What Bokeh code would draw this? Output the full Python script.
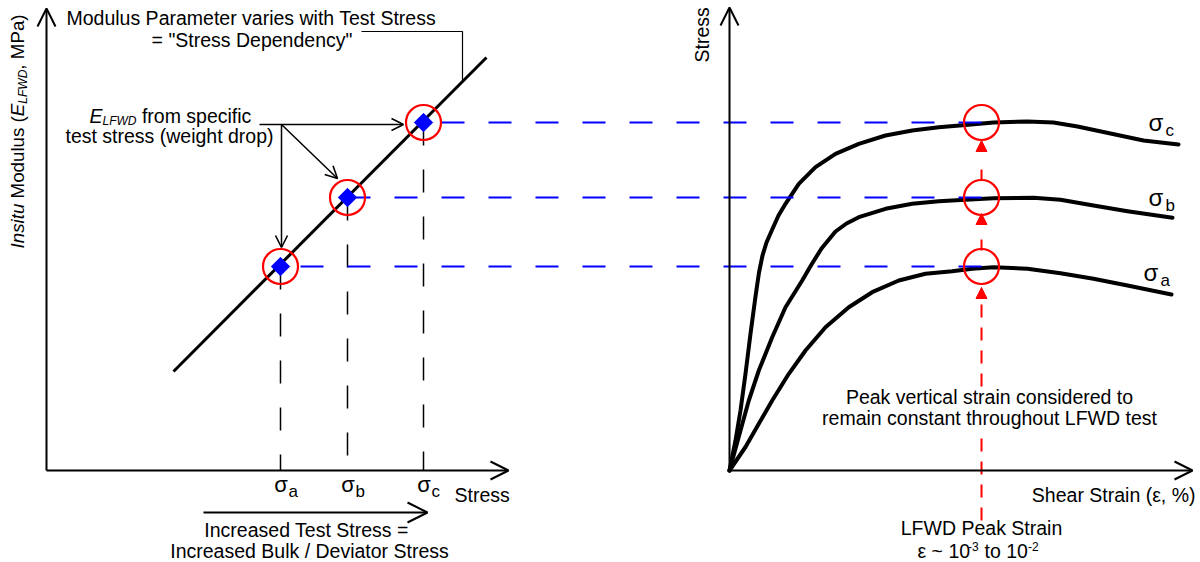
import math
from bokeh.plotting import figure
from bokeh.models import Range1d, Arrow, OpenHead, NormalHead
from bokeh.core.properties import value
from bokeh.embed import file_html
from bokeh.resources import INLINE

FONT = "Liberation Sans"
BLUE = "#0000FF"
RED = "#FF0000"

# ---------------- data (diagram units) ----------------
stress_labels = ["a", "b", "c"]
stress_x = [280, 347, 423]          # sigma_a, sigma_b, sigma_c on the stress axis
modulus_y = [266, 197, 122]         # E_LFWD obtained at each test stress
trend_x = [173, 486]                # modulus-vs-stress trend
trend_y = [371, 57]
peak_strain_x = 981                 # LFWD peak strain on the shear strain axis
right_label_x = [1143, 1148, 1148]
right_label_y = [282, 207, 132]

curve_a_x = [729, 745, 758.3, 771.7, 788.3, 805, 825, 848.3, 871.7, 898.3, 925, 951.7, 971.7, 993, 1027, 1060, 1093, 1127, 1171]
curve_a_y = [470, 446.5, 423.3, 400, 373.3, 350, 326.7, 306.7, 291.7, 280, 273.3, 270.7, 268.3, 266.7, 268.3, 272.7, 278.3, 285, 294]
curve_b_x = [729, 740, 748.3, 758.3, 771.7, 785, 801.7, 811, 821, 835, 846, 858.3, 885, 911.7, 938.3, 965, 993, 1033, 1060, 1093, 1127, 1172]
curve_b_y = [470, 430, 400, 370, 336.7, 306.7, 280, 264, 248, 231, 223, 216.7, 208.3, 203.3, 200.7, 199.3, 197.7, 197.3, 199.3, 205, 210.7, 217.3]
curve_c_x = [729, 735, 740, 745, 750, 755, 758.5, 762, 766, 771.7, 778, 785, 798.3, 815, 835, 858.3, 885, 911.7, 938.3, 965, 993, 1027, 1053, 1077, 1110, 1143, 1178]
curve_c_y = [470, 440, 410, 373.3, 333.3, 296, 272, 255, 242, 229, 215, 203.3, 183.3, 166.7, 153.3, 143.3, 135, 130, 126.7, 124.5, 122, 121, 122, 126, 133, 140, 144]

# ---------------- figure ----------------
W_PX, H_PX = 1200, 562
p = figure(width=W_PX, height=H_PX, x_range=Range1d(0, W_PX), y_range=Range1d(H_PX, 0),
           output_backend="svg", toolbar_location=None, min_border=0,
           x_axis_location=None, y_axis_location=None)
p.grid.visible = False
p.outline_line_color = None
p.background_fill_color = "white"
p.border_fill_color = "white"

AW = {' ': 278, '(': 333, ')': 333, ',': 278, '-': 333, '~': 584, '%': 889, '=': 584, '"': 355, '/': 278,
      'A': 667, 'B': 667, 'C': 722, 'D': 722, 'E': 667, 'F': 611, 'I': 278, 'L': 556, 'M': 833,
      'P': 667, 'S': 667, 'T': 611, 'W': 944,
      'a': 556, 'b': 556, 'c': 500, 'd': 556, 'e': 556, 'f': 278, 'g': 556, 'h': 556, 'i': 222,
      'k': 500, 'l': 222, 'm': 833, 'n': 556, 'o': 556, 'p': 556, 'r': 333, 's': 500, 't': 278,
      'u': 556, 'v': 500, 'w': 722, 'y': 500}
for d in "0123456789":
    AW[d] = 556


def tw(s, size):
    return sum(AW.get(ch, 556) for ch in s) * size / 1000.0


def txt(x, y, s, size=19.5, style="normal", align="left", angle=0.0, color="black"):
    """(x, y) is the baseline anchor as measured on the reference."""
    if angle == 0.0:
        y = y - 0.41 * size
    else:
        x = x - 0.53 * size
    p.text(x=[x], y=[y], text=[s], text_font=value(FONT), text_font_size=f"{size}px",
           text_font_style=style, text_align=align, text_baseline="alphabetic",
           angle=angle, text_color=color)


def chain(x, y, pieces, vertical=False):
    """pieces: (text, style, size, baseline shift px). Leading spaces become offsets."""
    cur = x if not vertical else y
    for s, st, sz, sh in pieces:
        body = s.lstrip(" ")
        cur += (-1 if vertical else 1) * tw(s[:len(s) - len(body)], sz)
        if vertical:
            txt(x + sh, cur, body, size=sz, style=st, angle=math.pi / 2)
        else:
            txt(cur, y + sh, body, size=sz, style=st)
        cur += (-1 if vertical else 1) * tw(body, sz)


def arrow(x0, y0, x1, y1, lw=2.0, size=18, hw=None, color="black"):
    p.add_layout(Arrow(end=OpenHead(size=size, line_width=hw or lw, line_color=color),
                       x_start=x0, y_start=y0, x_end=x1, y_end=y1,
                       line_width=lw, line_color=color))


# ---------------- left panel ----------------
arrow(46, 470, 46, 8, lw=2, size=18)
arrow(46, 470, 508, 470, lw=2, size=18)

p.line(trend_x, trend_y, line_width=3, line_color="black")

for sx, my in zip(stress_x, modulus_y):
    p.line([sx, sx], [my, 470], line_width=1.5, line_color="black", line_dash="23 24")

# ---------------- right panel ----------------
arrow(729, 470, 729, 7, lw=2, size=18)
arrow(729, 470, 1192, 470, lw=2, size=18)

for cx, cy in ((curve_a_x, curve_a_y), (curve_b_x, curve_b_y), (curve_c_x, curve_c_y)):
    p.line(cx, cy, line_width=4, line_color="black", line_join="round", line_cap="round")

# blue projection lines (drawn from the strain side so dashes line up)
for sx, my in zip(stress_x, modulus_y):
    p.line([peak_strain_x, sx], [my, my], line_width=2, line_color=BLUE, line_dash="23 24")

# red peak strain line
p.line([peak_strain_x, peak_strain_x], [520, 430], line_width=2, line_color=RED, line_dash="13 10")


def red_arrow(y0, y1, dash):
    p.add_layout(Arrow(end=NormalHead(size=11, fill_color=RED, line_color=RED, line_width=1),
                       x_start=peak_strain_x, y_start=y0, x_end=peak_strain_x, y_end=y1,
                       line_width=2, line_color=RED, line_dash=dash))


red_arrow(386, 287, "13 10")
red_arrow(250, 213, "11 40")
red_arrow(180, 140, "11 40")

# circles and markers
p.scatter(x=stress_x, y=modulus_y, marker="circle", size=35, fill_color=None,
          line_color=RED, line_width=2.2)
p.scatter(x=[peak_strain_x] * 3, y=modulus_y, marker="circle", size=35, fill_color=None,
          line_color=RED, line_width=2.2)
p.scatter(x=stress_x, y=modulus_y, marker="square", angle=math.pi / 4, size=13,
          fill_color=BLUE, line_color=BLUE)

# ---------------- annotations, left ----------------
txt(66, 25, "Modulus Parameter varies with Test Stress")
txt(251.5, 47, '= "Stress Dependency"', align="center")
p.line([361, 462, 462], [31, 31, 82], line_width=1.2, line_color="black")

chain(89, 123, [("E", "italic", 19.5, 0), ("LFWD", "italic", 12, 2), (" from specific", "normal", 19.5, 0)])
txt(169, 143, "test stress (weight drop)", align="center")

arrow(259, 124, 403, 124, lw=1.5, size=12, hw=1.6)
arrow(281, 124, 281, 247, lw=1.5, size=12, hw=1.6)
arrow(281, 124, 337, 178, lw=1.5, size=12, hw=1.6)

# rotated y label
chain(27, 248, [("Insitu", "italic", 18.75, 0), (" Modulus (", "normal", 18.75, 0),
                ("E", "italic", 18.75, 0), ("LFWD", "italic", 12, 1.5), (", MPa)", "normal", 18.75, 0)],
      vertical=True)

for lab, sx in zip(stress_labels, stress_x):
    txt(sx + 0.5, 493, "σ", size=22, align="center")
    txt(sx + 8, 498, lab, size=17)
txt(454, 502, "Stress")

arrow(203, 512, 427, 512, lw=2, size=20)
txt(306, 537, "Increased Test Stress =", align="center")
txt(309, 558, "Increased Bulk / Deviator Stress", align="center")

# ---------------- annotations, right ----------------
txt(712, 62, "Stress", angle=math.pi / 2)
for lab, lx, ly in zip(stress_labels, right_label_x, right_label_y):
    txt(lx, ly, "σ", size=24)
    txt(lx + 17, ly + 5, lab, size=17)

txt(989, 404, "Peak vertical strain considered to", align="center")
txt(989, 425, "remain constant throughout LFWD test", align="center")
txt(1195, 502, "Shear Strain (ε, %)", align="right")
txt(981, 535, "LFWD Peak Strain", align="center")
txt(917, 558, "ε ~ 10")
txt(967.5, 551, "-3", size=12)
txt(984, 558, "to 10")
txt(1027.5, 551, "-2", size=12)

open("out.html", "w").write(file_html(p, INLINE))
